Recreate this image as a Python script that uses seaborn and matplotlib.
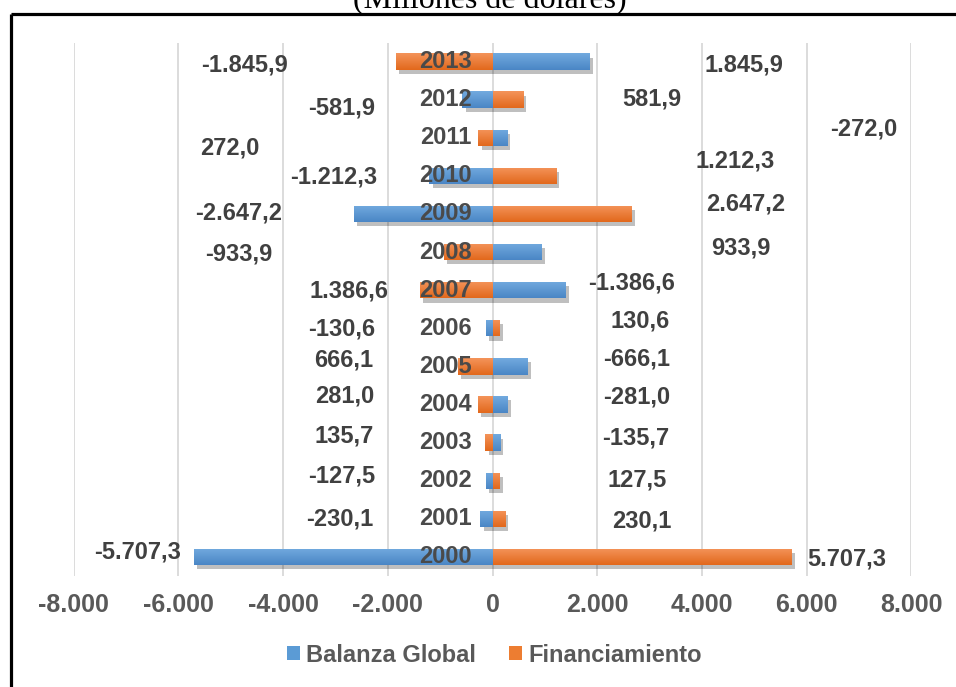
import numpy as np
import pandas as pd
import matplotlib
matplotlib.use("Agg")
import matplotlib.pyplot as plt
import matplotlib.patheffects as pe
from matplotlib.colors import LinearSegmentedColormap
from matplotlib.lines import Line2D
from matplotlib.patches import Patch
from matplotlib.ticker import FuncFormatter, FixedLocator
import seaborn as sns

# ---- data (millones de dólares) ----
years = [2013, 2012, 2011, 2010, 2009, 2008, 2007, 2006, 2005, 2004, 2003, 2002, 2001, 2000]
balanza_global = [1845.9, -581.9, 272.0, -1212.3, -2647.2, 933.9, 1386.6,
                  -130.6, 666.1, 281.0, 135.7, -127.5, -230.1, -5707.3]
financiamiento = [-1845.9, 581.9, -272.0, 1212.3, 2647.2, -933.9, -1386.6,
                  130.6, -666.1, -281.0, -135.7, 127.5, 230.1, 5707.3]
series_names = ["Balanza Global", "Financiamiento"]
x_ticks = [-8000, -6000, -4000, -2000, 0, 2000, 4000, 6000, 8000]

# ---- label placement (x in data units, vertical shift in rows) ----
bal_label_x = [4804, -2875, -5014, -3027, -4842, 4746, -2741, -2875, -2836, -2817, -2836, -2875, -2913, -6771]
bal_label_dy = [0.10, 0.23, 0.26, 0.02, -0.03, -0.12, 0.01, 0.01, -0.18, -0.23, -0.18, -0.13, 0.0, -0.13]
fin_label_x = [-4746, 3046, 7096, 4632, 4842, -4842, 2664, 2817, 2760, 2760, 2741, 2760, 2855, 6771]
fin_label_dy = [0.10, -0.03, -0.22, -0.40, -0.27, 0.04, -0.20, -0.20, -0.20, -0.20, -0.13, -0.02, 0.05, 0.05]

BLUE, ORANGE = "#5B9BD5", "#ED7D31"
BLUE_GRAD = ["#72AADF", "#4A86C5"]
ORANGE_GRAD = ["#F4945A", "#E2681C"]
TXT = "#404040"
FS = 17

sns.set_style("white")
plt.rcParams["font.family"] = ["Liberation Sans", "DejaVu Sans"]
plt.rcParams["font.weight"] = "bold"

df = pd.DataFrame({
    "Año": [str(y) for y in years] * 2,
    "Valor": balanza_global + financiamiento,
    "Serie": [series_names[0]] * len(years) + [series_names[1]] * len(years),
})

fig = plt.figure(figsize=(9.56, 6.87), dpi=100)
ax = fig.add_axes([73.7 / 956, 1 - 576 / 687, 837.6 / 956, 533.5 / 687])

sns.barplot(data=df, y="Año", x="Valor", hue="Serie", order=[str(y) for y in years],
            hue_order=series_names, palette=[BLUE, ORANGE], dodge=False,
            orient="h", width=0.43, saturation=1, errorbar=None, ax=ax, legend=False)

ax.set_xlim(-8000, 8000)
ax.set_ylim(len(years) - 0.5, -0.5)

# gridlines
for v in x_ticks:
    ax.axvline(v, color="#D9D9D9", lw=1.3, zorder=0)

# bar shading: soft shadow + vertical gradient
grad_maps = {BLUE: LinearSegmentedColormap.from_list("b", BLUE_GRAD),
             ORANGE: LinearSegmentedColormap.from_list("o", ORANGE_GRAD)}
grad = np.linspace(0, 1, 64).reshape(-1, 1)
for p in list(ax.patches):
    w = p.get_width()
    if abs(w) < 1e-9:
        continue
    fc = matplotlib.colors.to_hex(p.get_facecolor())
    cmap = grad_maps[BLUE] if fc.lower() == BLUE.lower() else grad_maps[ORANGE]
    p.set_edgecolor("none")
    p.set_zorder(2)
    p.set_path_effects([pe.SimplePatchShadow(offset=(2.5, -3), shadow_rgbFace="#000000", alpha=0.25),
                        pe.Normal()])
    x0, y0, h = p.get_x(), p.get_y(), p.get_height()
    im = ax.imshow(grad, cmap=cmap, extent=(min(x0, x0 + w), max(x0, x0 + w), y0 + h, y0),
                   origin="upper", aspect="auto", zorder=2.1, interpolation="bilinear")
    im.set_clip_path(p)

ax.set_xlim(-8000, 8000)
ax.set_ylim(len(years) - 0.5, -0.5)


def fmt_es(v):
    s = f"{v:,.1f}"
    return s.replace(",", "X").replace(".", ",").replace("X", ".")


# data labels
for k in range(len(years)):
    ax.text(bal_label_x[k], k + bal_label_dy[k], fmt_es(balanza_global[k]), ha="center",
            va="center", fontsize=FS, fontweight="bold", color=TXT, zorder=5)
    ax.text(fin_label_x[k], k + fin_label_dy[k], fmt_es(financiamiento[k]), ha="center",
            va="center", fontsize=FS, fontweight="bold", color=TXT, zorder=5)

# category labels next to the zero axis
for k, y in enumerate(years):
    ax.annotate(str(y), xy=(0, k), xytext=(-14.8, 0), textcoords="offset points",
                ha="right", va="center", fontsize=FS, fontweight="bold", color="#4A4A4A", zorder=6)

ax.set_ylabel("")
ax.set_xlabel("")
ax.set_yticks([])
ax.xaxis.set_major_locator(FixedLocator(x_ticks))
ax.xaxis.set_major_formatter(FuncFormatter(lambda v, _: f"{int(v):,}".replace(",", ".")))
ax.tick_params(axis="x", length=0, pad=12, labelsize=18, labelcolor="#595959")
for lbl in ax.get_xticklabels():
    lbl.set_fontweight("bold")
for s in ax.spines.values():
    s.set_visible(False)

# legend
handles = [Patch(facecolor=BLUE, edgecolor="none"), Patch(facecolor=ORANGE, edgecolor="none")]
fig.legend(handles, series_names, loc="center", bbox_to_anchor=(494.5 / 956, 1 - 655 / 687),
           ncol=2, frameon=False, handlelength=0.55, handleheight=0.55, handletextpad=0.25,
           columnspacing=1.4, prop={"size": FS, "weight": "bold"}, labelcolor="#595959")

# title and frame
fig.text(490 / 956, 1 - 8 / 687, "(Millones de dólares)", ha="center", va="baseline",
         family="Liberation Serif", fontsize=23, fontweight="normal", color="black")
fig.add_artist(Line2D([10.5 / 956, 1], [1 - 14 / 687] * 2, transform=fig.transFigure,
                      color="black", lw=2.3, solid_capstyle="butt"))
fig.add_artist(Line2D([10.5 / 956] * 2, [1 - 14 / 687, 0], transform=fig.transFigure,
                      color="black", lw=2.3, solid_capstyle="butt"))

fig.savefig("out.png", dpi=100)
